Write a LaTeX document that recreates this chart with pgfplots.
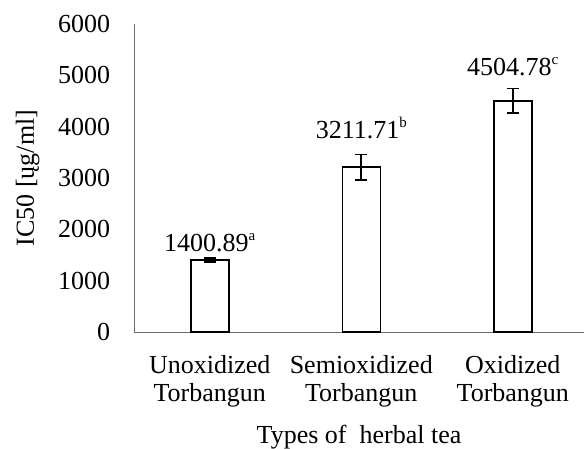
\documentclass[border=0pt]{standalone}
\usepackage{pgfplots}
\pgfplotsset{compat=1.18}
\usepackage{fontspec}
\setmainfont{Liberation Serif}
\begin{document}
\fontsize{26}{30}\selectfont
\begin{tikzpicture}[x=1pt,y=1pt]
\useasboundingbox (0,0) rectangle (584,448);
\begin{axis}[
  at={(134pt,116pt)}, anchor=south west,
  scale only axis, width=450pt, height=308pt,
  xmin=-0.5, xmax=2.47, ymin=0, ymax=6000,
  ytick={0,1000,...,6000},
  xtick={0,1,2},
  xticklabels={Unoxidized\\Torbangun, Semioxidized\\Torbangun, Oxidized\\Torbangun},
  xticklabel style={align=center, font=\fontsize{26}{28}\selectfont, yshift=-15pt},
  yticklabel style={font=\fontsize{26}{30}\selectfont, xshift=-15pt},
  /pgf/number format/assume math mode=true,
  /pgf/number format/1000 sep={},
  major tick length=0pt,
  axis x line*=bottom, axis y line*=left,
  axis line style={draw=gray!85!black, line width=1pt, -},
  xlabel={Types of\ \ herbal tea},
  ylabel={IC50 [ųg/ml]},
  xlabel style={font=\fontsize{26}{30}\selectfont},
  ylabel style={font=\fontsize{26}{30}\selectfont, yshift=1pt},
  clip=false,
]
\addplot[ybar, bar width=38pt, draw=black, fill=white, line width=1.5pt,
  error bars/.cd, y dir=both, y explicit,
  error bar style={line width=1.6pt, black},
  error mark options={rotate=90, mark size=6pt, line width=1.6pt, black}]
  coordinates {(0,1400.89) +- (0,40) (1,3211.71) +- (0,245) (2,4504.78) +- (0,235)};
\node at (axis cs:0,1739) {1400.89\raisebox{0.45em}{\fontsize{15}{15}\selectfont a}};
\node at (axis cs:1,3977) {3211.71\raisebox{0.45em}{\fontsize{15}{15}\selectfont b}};
\node at (axis cs:2,5172) {4504.78\raisebox{0.45em}{\fontsize{15}{15}\selectfont c}};
\end{axis}
\end{tikzpicture}
\end{document}
